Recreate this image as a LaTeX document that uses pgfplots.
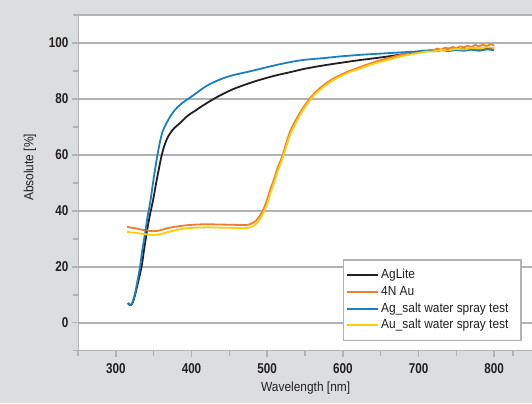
\documentclass[border=0pt]{standalone}
\usepackage{pgfplots}
\pgfplotsset{compat=1.18}
\usepackage{fontspec}
\setmainfont{Liberation Sans}[FakeStretch=0.9]
\newfontfamily\tickfont{Liberation Sans}[FakeStretch=0.82]
\definecolor{bg}{HTML}{DCDDDF}
\definecolor{gridgray}{HTML}{B1B2B4}
\definecolor{txt}{HTML}{231F20}
\definecolor{cblack}{HTML}{231F20}
\definecolor{corange}{HTML}{F07D2D}
\definecolor{cblue}{HTML}{1B7FC4}
\definecolor{cyellow}{HTML}{FFCC0A}
\begin{document}
\begin{tikzpicture}[x=1bp,y=1bp]
\fill[bg] (0,0) rectangle (532,403);
\useasboundingbox (0,0) rectangle (532,403);
\begin{axis}[
  at={(78bp,52.3bp)}, anchor=south west,
  width=454bp, height=335.7bp, scale only axis,
  xmin=250, xmax=850, ymin=-10, ymax=110,
  axis background/.style={fill=white},
  axis line style={draw=none},
  xtick={300,400,500,600,700,800},
  minor xtick={250,350,450,550,650,750,825},
  ytick={0,20,40,60,80,100},
  minor ytick={-10,10,30,50,70,90,110},
  xtick pos=left, ytick pos=left,
  tick align=outside,
  major tick length=6bp, minor tick length=5bp,
  every tick/.style={gridgray, line width=1.5bp},
  ymajorgrids,
  major grid style={gridgray, line width=1.8bp},
  /pgf/number format/assume math mode=true,
  ticklabel style={font=\tickfont\bfseries\fontsize{14.3}{14}\selectfont, text=txt},
  xticklabel style={yshift=-3bp},
  yticklabel style={xshift=0bp},
  xlabel={Wavelength [nm]},
  ylabel={Absolute [\%]},
  label style={font=\fontsize{13.3}{15}\selectfont, text=txt},
  xlabel style={at={(axis description cs:0.5015,-0.111)}, anchor=center},
  ylabel style={at={(axis description cs:-0.1057,0.546)}, anchor=center},
  legend cell align=left,
  legend image code/.code={\draw[#1, line width=1.9bp] plot coordinates {(0bp,0bp) (31bp,0bp)};},
  legend style={at={(axis description cs:0.977,0.028)}, anchor=south east,
    draw=gridgray, line width=1.2bp, fill=white,
    font=\fontsize{13.3}{15}\selectfont, text=txt,
    nodes={text height=9.7bp, text depth=3bp, inner sep=2bp},
    row sep=0bp, inner xsep=2.5bp, inner ysep=7bp},
  every axis plot/.append style={line width=1.8bp, line join=round, smooth, tension=0.5},
]
\addplot[cblack] coordinates {
(316,7.0)(318,6.4)(320,6.3)(322,7)(325,9.5)(329,14)(334,20)(337,25.5)(341,32.5)(345,38.5)(349,43.5)(354,51)(358,56.5)(361,60.3)(365,64)(370,67)(377,69.5)(385,71.4)(395,74)(405,75.8)(412,77.1)(425,79.3)(438,81.3)(455,83.5)(473,85.3)(490,86.8)(510,88.3)(531,89.6)(550,90.8)(575,92)(597,92.9)(620,93.8)(641,94.5)(660,95.2)(680,96)(700,96.9)(725,97.4)(750,97.7)(775,97.9)(800,98.1)
};
\addlegendentry{AgLite}
\addplot[corange] coordinates {
(315,34.3)(320,34)(325,33.8)(330,33.5)(335,33.2)(341,33)(348,32.7)(354,32.8)(362,33.3)(370,33.9)(381,34.4)(392,34.8)(407,35.1)(420,35.2)(438,35.1)(455,35)(469,34.9)(476,35.1)(482,35.8)(487,37)(491,38.5)(495,40.5)(500,44)(504,47.5)(508.7,51)(514,55.5)(520,59.5)(525,64)(531,68.8)(537,72)(545,75.8)(553,78.9)(563,82.2)(575,85)(586,87)(597,88.6)(608,89.9)(619,91)(630,92.1)(641,93.1)(652,94)(663,94.8)(680,96)(690,96.6)(700,96.9)(705,97.3)(710,97.0)(715,97.6)(720,97.4)(725,98.0)(730,97.6)(735,98.3)(740,98.0)(745,98.6)(750,98.1)(755,98.8)(760,98.4)(765,99.0)(770,98.5)(775,99.3)(780,98.8)(785,99.4)(790,98.9)(795,99.5)(800,99.1)
};
\addlegendentry{4N Au}
\addplot[cblue] coordinates {
(316,7.1)(318,6.5)(320,6.4)(322,7.3)(325,10)(328,14)(332,20)(335,26)(338.7,32)(342,38)(345.4,43)(349.7,51)(352,55)(355,60)(358.6,65)(362,68.5)(365,70.3)(369.6,72.7)(375,75)(382,77.2)(390,79)(396,80.1)(405,81.8)(415,83.8)(425,85.4)(440,87.2)(455,88.5)(473,89.6)(490,90.7)(510,92)(531,93.2)(550,94)(575,94.6)(597,95.2)(625,95.8)(650,96.2)(675,96.6)(700,97)(710,97.3)(720,97.0)(730,97.4)(740,97.1)(750,97.5)(760,97.2)(770,97.6)(780,97.2)(790,97.7)(800,97.4)
};
\addlegendentry{Ag\_salt water spray test\hspace*{8bp}}
\addplot[cyellow] coordinates {
(315,32.5)(320,32.3)(325,32.2)(330,32)(335,31.8)(341,31.6)(348,31.4)(355,31.5)(362,31.9)(370,32.5)(381,33.2)(392,33.7)(407,34)(420,34.1)(438,34)(455,33.9)(469,33.8)(476,34)(482,34.6)(487,35.8)(491,37.3)(495,39.3)(500,42.5)(504,46)(509,50)(514,54.2)(520,58.5)(525,62.8)(531,67.6)(537,71)(545,75)(553,78.2)(563,81.6)(575,84.4)(586,86.5)(597,88.1)(608,89.5)(619,90.5)(630,91.6)(641,92.6)(652,93.4)(663,94.2)(680,95.4)(700,96.4)(710,96.9)(720,97.0)(730,97.5)(740,97.4)(750,97.9)(760,97.7)(770,98.2)(780,98.0)(790,98.4)(800,98.2)
};
\addlegendentry{Au\_salt water spray test\hspace*{8bp}}
\draw[gridgray, line width=2bp] (rel axis cs:0,1) -- (rel axis cs:0,0) -- (rel axis cs:1,0);
\draw[gridgray, line width=2bp] (rel axis cs:0,1) -- (rel axis cs:1,1);
\end{axis}
\end{tikzpicture}
\end{document}
